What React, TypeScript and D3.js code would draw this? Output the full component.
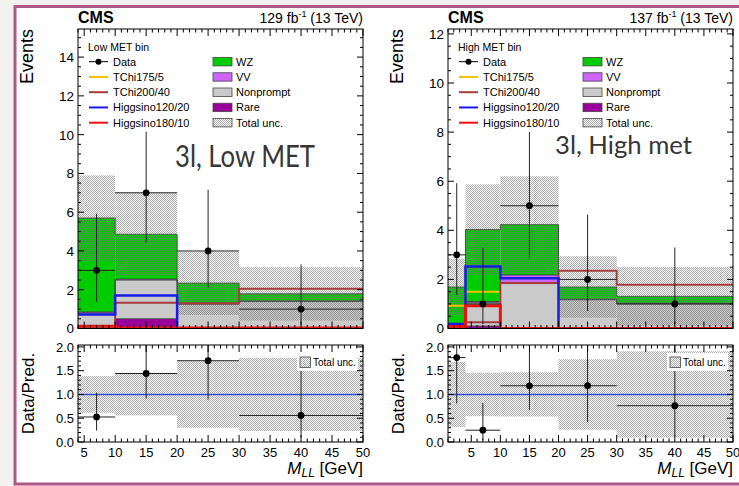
import * as d3 from "d3";

// ---- data ----
const lowEdges = [4, 10, 20, 30, 50];
const lowRare = [0.05, 0.5, 0.05, 0.04];
const lowNonprompt = [0.75, 2.0, 1.2, 1.36];
const lowVV = [0.05, 0.05, 0.05, 0.01];
const lowWZ = [4.85, 2.31, 1.04, 0.38];
const lowUncUp = [7.9, 7.0, 3.98, 3.17];
const lowUncDown = [3.5, 2.72, 0.7, 0.41];
const lowData = [3, 7, 4, 1];
const lowDataLo = [1.37, 4.42, 2.09, 0.17];
const lowDataHi = [5.92, 10.15, 7.16, 3.3];
const lowTChi175 = [0, 0, 0, 0];
const lowTChi200 = [0.1, 1.33, 1.3, 2.05];
const lowHiggsino120 = [0.72, 1.7, 0, 0];
const lowHiggsino180 = [0.12, 0.02, 0.02, 0.02];

const highEdges = [1, 4, 10, 20, 30, 50];
const highRare = [0.04, 0.1, 0.03, 0.02, 0.02];
const highNonprompt = [0.1, 0.95, 1.8, 1.15, 0.98];
const highVV = [0.05, 0.05, 0.35, 0.02, 0.02];
const highWZ = [1.5, 2.93, 2.05, 0.5, 0.29];
const highUncUp = [2.85, 5.87, 6.2, 2.94, 2.5];
const highUncDown = [0.53, 2.19, 2.26, 0.44, 0.12];
const highData = [3, 1, 5, 2, 1];
const highDataLo = [1.37, 0.17, 2.84, 0.71, 0.17];
const highDataHi = [5.92, 3.3, 8.0, 4.64, 3.3];
const highTChi175 = [0.93, 1.5, 0.02, 0.02, 0.02];
const highTChi200 = [0.05, 0.25, 1.85, 2.35, 1.78];
const highHiggsino120 = [0.18, 2.53, 2.05, 0, 0];
const highHiggsino180 = [0.08, 0.93, 0, 0, 0];

const xTickValues = [5, 10, 15, 20, 25, 30, 35, 40, 45, 50];
const ratioTickValues = [0, 0.5, 1, 1.5, 2];
const signalNames = ["TChi175/5", "TChi200/40", "Higgsino120/20", "Higgsino180/10"];
const bkgNames = ["WZ", "VV", "Nonprompt", "Rare"];

const colors = {
  wz: "#00cc00",
  vv: "#cc66ff",
  nonprompt: "#cacaca",
  rare: "#990099",
  sig: ["#f2c200", "#a83c3c", "#1a1ae6", "#f01010"],
  ratioLine: "#3050d8",
  border: "#b0578a",
};
const sigWidth = [2, 2, 2.5, 3];

const font = "'Liberation Sans', Arial, Helvetica, sans-serif";
const MAIN_TOP = 29;
const MAIN_BOTTOM = 328.5;
const RATIO_TOP = 345;
const RATIO_BOTTOM = 442;

function Panel({ id, x0, x1, edges, ymax, rare, nonprompt, vv, wz, uncUp, uncDown, data, dataLo, dataHi, signals, binLabel, lumi, tag, tagX, tagY, tagSize, tagWidth }) {
  const x = d3.scaleLinear().domain([edges[0], 50]).range([x0, x1]);
  const y = d3.scaleLinear().domain([0, ymax]).range([MAIN_BOTTOM, MAIN_TOP]);
  const ry = d3.scaleLinear().domain([0, 2.04]).range([RATIO_BOTTOM, RATIO_TOP]);
  const n = data.length;
  const bins = d3.range(n);
  const layers = [
    { vals: rare, color: colors.rare },
    { vals: nonprompt, color: colors.nonprompt },
    { vals: vv, color: colors.vv },
    { vals: wz, color: colors.wz },
  ];
  const cum = bins.map(() => 0);
  const stacked = layers.map((l) => {
    const lo = cum.slice();
    bins.forEach((i) => (cum[i] += l.vals[i]));
    return { ...l, lo, hi: cum.slice() };
  });
  const total = cum.slice();

  const step = (vals, yy) =>
    d3.line().curve(d3.curveStepAfter).x((d) => x(d[0])).y((d) => yy(d[1]))(
      edges.map((e, i) => [e, vals[Math.min(i, n - 1)]])
    );

  const yMajor = d3.range(0, ymax, 2);
  const yMinor = d3.range(0, ymax, 0.5);
  const xMinor = d3.range(Math.ceil(edges[0]), 50.01, 1);
  const rMinor = d3.range(0, 2.04, 0.1);
  const clamp = (v) => Math.max(0, Math.min(2.04, v));

  const frameTicks = (yy, top, bottom, majors, minors, yMajLen, yMinLen) => (
    <g stroke="#000" strokeWidth={1}>
      {xMinor.map((v) => {
        const maj = xTickValues.includes(v);
        const l = maj ? 7 : 3.5;
        return (
          <g key={"x" + v}>
            <line x1={x(v)} x2={x(v)} y1={bottom} y2={bottom - l} />
            <line x1={x(v)} x2={x(v)} y1={top} y2={top + l} />
          </g>
        );
      })}
      {minors.map((v) => {
        const maj = majors.some((m) => Math.abs(m - v) < 1e-6);
        const l = maj ? yMajLen : yMinLen;
        return (
          <g key={"y" + v}>
            <line x1={x0} x2={x0 + l} y1={yy(v)} y2={yy(v)} />
            <line x1={x1} x2={x1 - l} y1={yy(v)} y2={yy(v)} />
          </g>
        );
      })}
    </g>
  );

  const legendRows = [0, 1, 2, 3, 4].map((i) => 61.7 + i * 15.25);
  const bkgColors = [colors.wz, colors.vv, colors.nonprompt, colors.rare];

  return (
    <g fontFamily={font}>
      <defs>
        <clipPath id={id + "main"}>
          <rect x={x0} y={MAIN_TOP} width={x1 - x0} height={MAIN_BOTTOM - MAIN_TOP} />
        </clipPath>
        <clipPath id={id + "ratio"}>
          <rect x={x0} y={RATIO_TOP} width={x1 - x0} height={RATIO_BOTTOM - RATIO_TOP} />
        </clipPath>
      </defs>

      {/* main panel */}
      <g clipPath={`url(#${id}main)`}>
        {stacked.map((l, k) =>
          bins.map((i) => (
            <rect key={k + "-" + i} x={x(edges[i])} width={x(edges[i + 1]) - x(edges[i])}
              y={y(l.hi[i])} height={y(l.lo[i]) - y(l.hi[i])} fill={l.color} />
          ))
        )}
        {stacked.map((l, k) => (
          <path key={"o" + k} d={step(l.hi, y)} fill="none" stroke="#3c3c3c" strokeWidth={0.9} />
        ))}
        {bins.map((i) => (
          <rect key={"u" + i} x={x(edges[i])} width={x(edges[i + 1]) - x(edges[i])}
            y={y(uncUp[i])} height={y(uncDown[i]) - y(uncUp[i])} fill="url(#hatch)" />
        ))}
        {signals.map((s, k) => (
          <path key={"s" + k} d={step(s, y)} fill="none" stroke={colors.sig[k]} strokeWidth={sigWidth[k]} />
        ))}
        {bins.map((i) => {
          const cx = x((edges[i] + edges[i + 1]) / 2);
          return (
            <g key={"d" + i} stroke="#222" strokeWidth={1}>
              <line x1={x(edges[i])} x2={x(edges[i + 1])} y1={y(data[i])} y2={y(data[i])} />
              <line x1={cx} x2={cx} y1={y(dataLo[i])} y2={y(dataHi[i])} />
              <circle cx={cx} cy={y(data[i])} r={3.4} fill="#000" stroke="none" />
            </g>
          );
        })}
      </g>
      <rect x={x0} y={MAIN_TOP} width={x1 - x0} height={MAIN_BOTTOM - MAIN_TOP} fill="none" stroke="#000" strokeWidth={1} />
      {frameTicks(y, MAIN_TOP, MAIN_BOTTOM, yMajor, yMinor, 6, 3)}
      {yMajor.map((v) => (
        <text key={v} x={x0 - 4} y={y(v)} dy="0.36em" textAnchor="end" fontSize={13.5}>{v}</text>
      ))}
      <text transform={`translate(${x0 - 45},${MAIN_TOP}) rotate(-90)`} textAnchor="end" fontSize={18}>Events</text>
      <text x={x0} y={23} fontSize={16} fontWeight="bold">CMS</text>
      <text x={x1} y={23} fontSize={14} textAnchor="end">
        {lumi} fb<tspan fontSize={9} dy={-6}>-1</tspan><tspan dy={6}> (13 TeV)</tspan>
      </text>

      {/* legend */}
      <text x={x0 + 10} y={50.5} fontSize={10.5}>{binLabel}</text>
      <line x1={x0 + 11} x2={x0 + 30} y1={legendRows[0]} y2={legendRows[0]} stroke="#000" />
      <circle cx={x0 + 20.5} cy={legendRows[0]} r={3} fill="#000" />
      <text x={x0 + 35} y={legendRows[0]} dy="0.36em" fontSize={11}>Data</text>
      {signalNames.map((s, k) => (
        <g key={s}>
          <line x1={x0 + 11} x2={x0 + 30} y1={legendRows[k + 1]} y2={legendRows[k + 1]} stroke={colors.sig[k]} strokeWidth={2} />
          <text x={x0 + 35} y={legendRows[k + 1]} dy="0.36em" fontSize={11}>{s}</text>
        </g>
      ))}
      {bkgNames.concat(["Total unc."]).map((s, k) => (
        <g key={s}>
          <rect x={x0 + 135} y={legendRows[k] - 4.2} width={19} height={8.4}
            fill={k < 4 ? bkgColors[k] : "url(#hatch)"} stroke="#444" strokeWidth={0.8} />
          <text x={x0 + 158} y={legendRows[k]} dy="0.36em" fontSize={11}>{s}</text>
        </g>
      ))}
      <text x={tagX} y={tagY} fontFamily="Lato, 'Open Sans', sans-serif" fontWeight={400}
        fontSize={tagSize} fill="#363636" textLength={tagWidth} lengthAdjust="spacingAndGlyphs">{tag}</text>

      {/* ratio panel */}
      <g clipPath={`url(#${id}ratio)`}>
        {bins.map((i) => (
          <rect key={"ru" + i} x={x(edges[i])} width={x(edges[i + 1]) - x(edges[i])}
            y={ry(clamp(uncUp[i] / total[i]))}
            height={ry(clamp(uncDown[i] / total[i])) - ry(clamp(uncUp[i] / total[i]))} fill="url(#hatch)" />
        ))}
        <line x1={x0} x2={x1} y1={ry(1)} y2={ry(1)} stroke={colors.ratioLine} strokeWidth={1.5} />
        {bins.map((i) => {
          const cx = x((edges[i] + edges[i + 1]) / 2);
          const r = data[i] / total[i];
          return (
            <g key={"rd" + i} stroke="#222" strokeWidth={1}>
              <line x1={x(edges[i])} x2={x(edges[i + 1])} y1={ry(r)} y2={ry(r)} />
              <line x1={cx} x2={cx} y1={ry(clamp(dataLo[i] / total[i]))} y2={ry(clamp(dataHi[i] / total[i]))} />
              <circle cx={cx} cy={ry(r)} r={3.4} fill="#000" stroke="none" />
            </g>
          );
        })}
      </g>
      <rect x={x1 - 66} y={353} width={61} height={18} fill="#fff" />
      <rect x={x1 - 63} y={357} width={10.5} height={10.5} fill="url(#hatch)" stroke="#444" strokeWidth={0.8} />
      <text x={x1 - 50} y={362.5} dy="0.36em" fontSize={10}>Total unc.</text>
      <rect x={x0} y={RATIO_TOP} width={x1 - x0} height={RATIO_BOTTOM - RATIO_TOP} fill="none" stroke="#000" strokeWidth={1} />
      {frameTicks(ry, RATIO_TOP, RATIO_BOTTOM, ratioTickValues, rMinor, 6, 3)}
      {ratioTickValues.map((v) => (
        <text key={v} x={x0 - 4} y={ry(v)} dy="0.36em" textAnchor="end" fontSize={13}>{v.toFixed(1)}</text>
      ))}
      {xTickValues.map((v) => (
        <text key={v} x={x(v)} y={457} textAnchor="middle" fontSize={13}>{v}</text>
      ))}
      <text transform={`translate(${x0 - 44},${(RATIO_TOP + RATIO_BOTTOM) / 2}) rotate(-90)`} textAnchor="middle" fontSize={17}>Data/Pred.</text>
      <text x={x1} y={474} textAnchor="end" fontSize={17}>
        <tspan fontStyle="italic">M</tspan>
        <tspan fontStyle="italic" fontSize={12} dy={3}>LL</tspan>
        <tspan dy={-3}> [GeV]</tspan>
      </text>
    </g>
  );
}

export default function App() {
  return (
    <svg width={739} height={486} style={{ position: "absolute", left: 0, top: 0 }}>
      <defs>
        <pattern id="hatch" x={0} y={0} width={2} height={2} patternUnits="userSpaceOnUse">
          <rect x={0} y={0} width={1} height={1} fill="#707070" fillOpacity={0.6} shapeRendering="crispEdges" />
          <rect x={1} y={1} width={1} height={1} fill="#707070" fillOpacity={0.6} shapeRendering="crispEdges" />
        </pattern>
      </defs>
      <rect x={0} y={0} width={739} height={486} fill="#f1f1ef" />
      <rect x={15} y={6.5} width={730} height={477.5} fill="#fff" stroke={colors.border} strokeWidth={3} />
      <Panel id="low" x0={78} x1={363} edges={lowEdges} ymax={15.45}
        rare={lowRare} nonprompt={lowNonprompt} vv={lowVV} wz={lowWZ}
        uncUp={lowUncUp} uncDown={lowUncDown} data={lowData} dataLo={lowDataLo} dataHi={lowDataHi}
        signals={[lowTChi175, lowTChi200, lowHiggsino120, lowHiggsino180]}
        binLabel="Low MET bin" lumi="129" tag="3l,  Low  MET" tagX={175} tagY={167} tagSize={30} tagWidth={140} />
      <Panel id="high" x0={448} x1={733} edges={highEdges} ymax={12.2}
        rare={highRare} nonprompt={highNonprompt} vv={highVV} wz={highWZ}
        uncUp={highUncUp} uncDown={highUncDown} data={highData} dataLo={highDataLo} dataHi={highDataHi}
        signals={[highTChi175, highTChi200, highHiggsino120, highHiggsino180]}
        binLabel="High MET bin" lumi="137" tag="3l,  High met" tagX={555} tagY={154} tagSize={25} tagWidth={137} />
    </svg>
  );
}
